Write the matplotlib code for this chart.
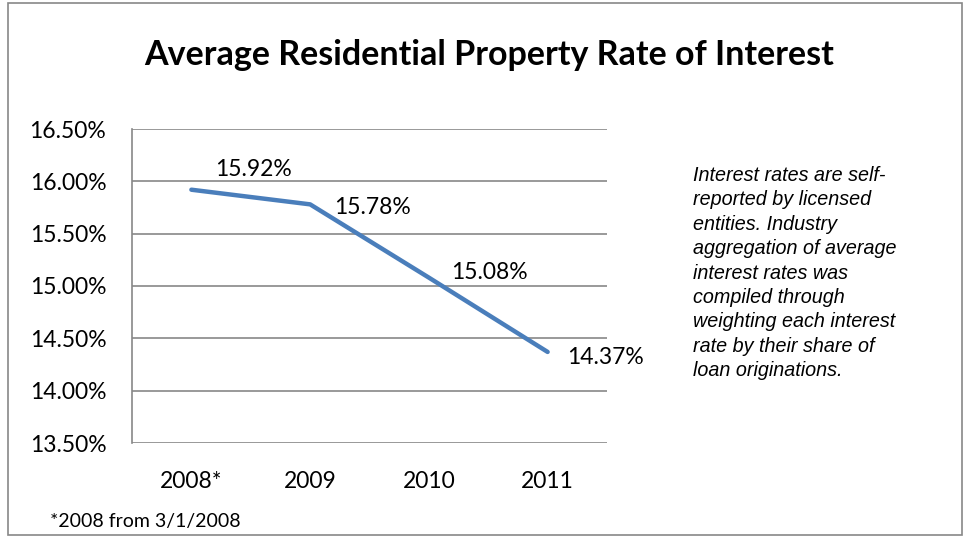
import matplotlib
matplotlib.use("Agg")
import matplotlib.pyplot as plt
from matplotlib.patches import Rectangle
from matplotlib.ticker import FuncFormatter, MultipleLocator

years = ["2008*", "2009", "2010", "2011"]
rates = [15.92, 15.78, 15.08, 14.37]
rate_labels = ["15.92%", "15.78%", "15.08%", "14.37%"]
label_offsets = [(62, 20), (62, -3), (61, 5), (58, -6)]  # pixels from point

title = "Average Residential Property Rate of Interest"
note = ("Interest rates are self-\nreported by licensed\nentities. Industry\n"
        "aggregation of average\ninterest rates was\ncompiled through\n"
        "weighting each interest\nrate by their share of\nloan originations.")
footnote = "*2008 from 3/1/2008"

W, H = 964, 537
main_font = "Lato"
grey = "#878787"
blue = "#4A7EBB"

fig = plt.figure(figsize=(W / 100, H / 100), dpi=100)
fig.patches.append(Rectangle((8 / W, 2 / H), 954 / W, 532 / H,
                             transform=fig.transFigure, fill=False,
                             edgecolor=grey, linewidth=1.2))

ax = fig.add_axes([132 / W, 1 - 443 / H, 475 / W, 314 / H])
x = list(range(len(years)))
ax.plot(x, rates, color=blue, linewidth=3.2, solid_capstyle="round",
        solid_joinstyle="round", zorder=3)

for xi, yi, lab, (dx, dy) in zip(x, rates, rate_labels, label_offsets):
    ax.annotate(lab, (xi, yi), xytext=(dx * 0.72, dy * 0.72),
                textcoords="offset points", ha="center", va="center",
                fontsize=16.5, family=main_font, color="black")

ax.set_xlim(-0.5, 3.5)
ax.set_ylim(13.5, 16.5)
ax.yaxis.set_major_locator(MultipleLocator(0.5))
ax.yaxis.set_major_formatter(FuncFormatter(lambda v, p: "{:.2f}%".format(v)))
ax.set_xticks(x)
ax.set_xticklabels(years)
ax.grid(axis="y", color=grey, linewidth=1.2)
ax.set_axisbelow(True)
for side in ["top", "right", "bottom"]:
    ax.spines[side].set_visible(False)
ax.spines["left"].set_color(grey)
ax.spines["left"].set_linewidth(1.2)
ax.tick_params(axis="both", length=0, labelsize=16.5)
ax.tick_params(axis="y", pad=18.5)
ax.tick_params(axis="x", pad=20)
for t in ax.get_xticklabels() + ax.get_yticklabels():
    t.set_family(main_font)

fig.text(489 / W, 1 - 55 / H, title, ha="center", va="center",
         fontsize=24.5, fontweight="bold", family=main_font)
fig.text(693 / W, 1 - 166 / H, note, ha="left", va="top", fontsize=14.2,
         style="italic", family="Liberation Sans", linespacing=1.36)
fig.text(50 / W, 1 - 521 / H, footnote, ha="left", va="center",
         fontsize=14, family=main_font)

fig.savefig("out.png", dpi=100)
